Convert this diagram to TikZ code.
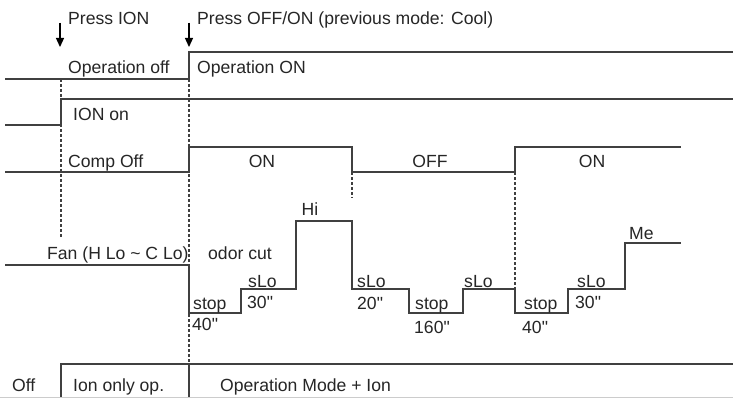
\documentclass[tikz,border=0pt]{standalone}
\usepackage{fontspec}
\setmainfont{Liberation Sans}[Ligatures=TeXOff]
\usetikzlibrary{arrows.meta}
\definecolor{lineclr}{HTML}{404040}
\definecolor{txtclr}{HTML}{262626}
\definecolor{rulegray}{HTML}{CCCCCC}
\newcommand{\inch}{\symbol{34}}
\begin{document}
\begin{tikzpicture}[x=1pt,y=-1pt,
  sig/.style={draw=lineclr, line width=1.6pt},
  guide/.style={draw=lineclr, line width=1.5pt, dash pattern=on 3pt off 2pt},
  lbl/.style={anchor=base west, inner sep=0pt, text=txtclr, font=\fontsize{17.6}{20}\selectfont},
  clbl/.style={lbl, anchor=base},
  press/.style={-{Triangle[length=9pt,width=8pt]}, line width=1.3pt, draw=black, fill=black}]
\useasboundingbox (0,0) rectangle (733,398);
\fill[white] (0,0) rectangle (733,398);

% dashed guide lines
\draw[guide] (61,79) -- (61,237);
\draw[guide] (189,79) -- (189,364);
\draw[guide] (352,172) -- (352,198);
\draw[guide] (515,172) -- (515,289);

% press arrows
\coordinate (a1s) at (60,23);
\coordinate (a1e) at (60,47);
\coordinate (a2s) at (189,23);
\coordinate (a2e) at (189,47);
\draw[press] (a1s) -- (a1e);
\draw[press] (a2s) -- (a2e);

% signals
\draw[sig] (5,79) -- (189,79) -- (189,52) -- (733,52);
\draw[sig] (5,125) -- (61,125) -- (61,99) -- (733,99);
\draw[sig] (5,172) -- (189,172) -- (189,147) -- (352,147) -- (352,172) -- (515,172) -- (515,147) -- (681,147);
\draw[sig] (5,265) -- (189,265) -- (189,313) -- (241,313) -- (241,289) -- (296,289) -- (296,221) -- (352,221) -- (352,289) -- (409,289) -- (409,313) -- (463,313) -- (463,289) -- (515,289) -- (515,313) -- (568,313) -- (568,289) -- (625,289) -- (625,243) -- (681,243);
\draw[sig] (61,398) -- (61,364) -- (733,364);
\draw[sig] (189,364) -- (189,398);
\draw[rulegray, line width=1pt] (0,397) -- (733,397);

% labels
\node[lbl] (pion) at (68,25) {Press ION};
\node[lbl] (poff) at (197,25) {Press OFF/ON (previous mode: Cool)};
\node[lbl] (opoff) at (68,74) {Operation off};
\node[lbl] (opon) at (197,74) {Operation ON};
\node[lbl] (ionon) at (73,121) {ION on};
\node[lbl] (compoff) at (68,168) {Comp Off};
\node[clbl] (on1) at (262,168) {ON};
\node[clbl] (off1) at (430,168) {OFF};
\node[clbl] (on2) at (592,168) {ON};
\node[lbl] (fan) at (47,259) {Fan (H Lo \textasciitilde{} C Lo)};
\node[lbl] (odor) at (208,259) {odor cut};
\node[clbl] (hi) at (310,215) {Hi};
\node[lbl] (stop1) at (193,309) {stop};
\node[lbl] (t40a) at (192,330) {40\inch};
\node[lbl] (slo1) at (248,287) {sLo};
\node[lbl] (t30a) at (247,308) {30\inch};
\node[lbl] (slo2) at (357,287) {sLo};
\node[lbl] (t20) at (357,309) {20\inch};
\node[lbl] (stop2) at (415,309) {stop};
\node[lbl] (t160) at (414,333) {160\inch};
\node[lbl] (slo3) at (464,287) {sLo};
\node[lbl] (stop3) at (524,309) {stop};
\node[lbl] (t40b) at (522,333) {40\inch};
\node[lbl] (slo4) at (577,287) {sLo};
\node[lbl] (t30b) at (575,308) {30\inch};
\node[lbl] (me) at (629,239) {Me};
\node[lbl] (offb) at (12,391) {Off};
\node[lbl] (iononly) at (73,391) {Ion only op.};
\node[lbl] (opmode) at (220,391) {Operation Mode + Ion};
\end{tikzpicture}
\end{document}
